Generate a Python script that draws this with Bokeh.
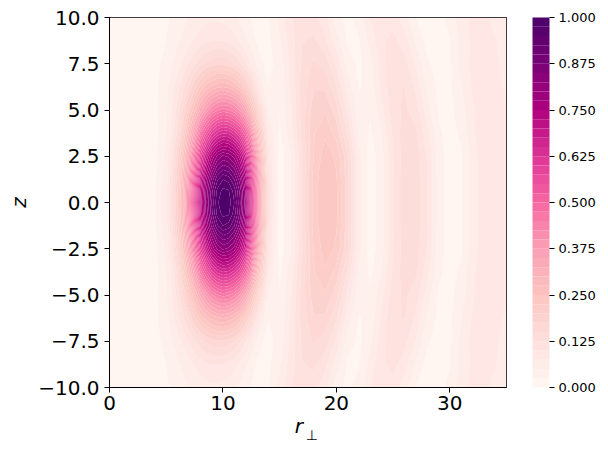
import numpy as np
from bokeh.plotting import figure
from bokeh.models import (Range1d, FixedTicker, CustomJSTickFormatter, PrintfTickFormatter,
                          Title, LinearAxis)
from bokeh.embed import file_html
from bokeh.resources import INLINE

# ---- data -----------------------------------------------------------------
# radial sample positions r_perp (columns; finer around the main lobe)
r_perp = [0, 1, 2, 3, 4, 5, 5.5, 6, 6.5, 7, 7.5, 8, 8.5, 9, 9.5, 10, 10.5, 11, 11.5,
          12, 12.5, 13, 13.5, 14, 15, 16, 17, 18, 19, 20, 21, 22, 23, 24, 25, 26, 27,
          28, 29, 30, 31, 32, 33, 34, 35]
# |z| of the rows (the field is symmetric in z)
z_abs = [0.0, 0.625, 1.25, 2.5, 3.75, 5.0, 6.25, 7.5, 8.75, 10.0]

row_z0_00 = [0, 0, 0, 0.005, 0.02, 0.07, 0.125, 0.2, 0.3, 0.42, 0.56, 0.7, 0.81, 0.9, 0.97,
             0.995, 0.99, 0.95, 0.88, 0.78, 0.63, 0.45, 0.27, 0.12,
             0.01, 0.05, 0.13, 0.21, 0.25, 0.23, 0.16, 0.06, 0.01, 0.04, 0.10, 0.14, 0.14, 0.10,
             0.04, 0.01, 0.02, 0.06, 0.09, 0.10, 0.09]
row_z0_62 = [0, 0, 0, 0.005, 0.02, 0.069, 0.123, 0.198, 0.296, 0.415, 0.553, 0.691, 0.8, 0.889, 0.958,
             0.983, 0.978, 0.938, 0.869, 0.77, 0.622, 0.444, 0.267, 0.118,
             0.01, 0.05, 0.13, 0.21, 0.25, 0.23, 0.16, 0.06, 0.01, 0.04, 0.10, 0.14, 0.14, 0.10,
             0.04, 0.01, 0.02, 0.06, 0.09, 0.10, 0.09]
row_z1_25 = [0, 0, 0, 0.005, 0.019, 0.066, 0.119, 0.19, 0.285, 0.40, 0.53, 0.665, 0.77, 0.855, 0.92,
             0.95, 0.94, 0.90, 0.836, 0.74, 0.6, 0.43, 0.26, 0.114,
             0.01, 0.05, 0.13, 0.21, 0.248, 0.228, 0.159, 0.06, 0.01, 0.04, 0.10, 0.14, 0.14, 0.10,
             0.04, 0.01, 0.02, 0.06, 0.09, 0.10, 0.09]
row_z2_50 = [0, 0, 0, 0.004, 0.017, 0.058, 0.104, 0.166, 0.25, 0.35, 0.465, 0.58, 0.67, 0.75, 0.805,
             0.83, 0.82, 0.79, 0.73, 0.65, 0.52, 0.37, 0.224, 0.10,
             0.01, 0.048, 0.125, 0.20, 0.24, 0.22, 0.154, 0.058, 0.01, 0.04, 0.099, 0.139, 0.139, 0.099,
             0.04, 0.01, 0.02, 0.06, 0.09, 0.10, 0.09]
row_z3_75 = [0, 0, 0, 0.004, 0.014, 0.05, 0.081, 0.135, 0.195, 0.28, 0.364, 0.46, 0.527, 0.59, 0.63,
             0.65, 0.643, 0.615, 0.572, 0.50, 0.41, 0.28, 0.176, 0.075,
             0.02, 0.065, 0.137, 0.198, 0.22, 0.19, 0.12, 0.042, 0.02, 0.05, 0.105, 0.138, 0.13, 0.085,
             0.03, 0.015, 0.03, 0.07, 0.092, 0.097, 0.085]
row_z5_00 = [0, 0, 0.001, 0.005, 0.018, 0.046, 0.075, 0.11, 0.157, 0.21, 0.27, 0.33, 0.38, 0.42, 0.447,
             0.46, 0.452, 0.43, 0.395, 0.34, 0.265, 0.18, 0.11, 0.046,
             0.025, 0.072, 0.137, 0.189, 0.197, 0.161, 0.092, 0.032, 0.028, 0.069, 0.113, 0.131, 0.111, 0.062,
             0.022, 0.017, 0.038, 0.072, 0.09, 0.093, 0.08]
row_z6_25 = [0, 0, 0.002, 0.006, 0.018, 0.042, 0.064, 0.09, 0.121, 0.156, 0.194, 0.23, 0.258, 0.28, 0.294,
             0.30, 0.292, 0.276, 0.245, 0.204, 0.155, 0.10, 0.055, 0.025,
             0.029, 0.079, 0.137, 0.173, 0.17, 0.128, 0.062, 0.023, 0.032, 0.082, 0.121, 0.126, 0.095, 0.044,
             0.018, 0.02, 0.048, 0.078, 0.091, 0.086, 0.07]
row_z7_50 = [0, 0.001, 0.002, 0.005, 0.015, 0.034, 0.049, 0.065, 0.082, 0.10, 0.121, 0.14, 0.155, 0.165, 0.17,
             0.17, 0.163, 0.15, 0.128, 0.10, 0.071, 0.044, 0.026, 0.017,
             0.034, 0.084, 0.132, 0.154, 0.14, 0.095, 0.036, 0.019, 0.043, 0.09, 0.116, 0.11, 0.073, 0.029,
             0.016, 0.022, 0.057, 0.082, 0.089, 0.08, 0.063]
row_z8_75 = [0, 0.001, 0.002, 0.005, 0.012, 0.025, 0.035, 0.045, 0.056, 0.067, 0.078, 0.087, 0.094, 0.099, 0.1,
             0.098, 0.093, 0.084, 0.071, 0.054, 0.037, 0.021, 0.015, 0.018,
             0.046, 0.089, 0.123, 0.13, 0.107, 0.062, 0.02, 0.023, 0.06, 0.096, 0.107, 0.087, 0.046, 0.015,
             0.012, 0.023, 0.057, 0.08, 0.085, 0.077, 0.06]
row_z10_0 = [0, 0.001, 0.002, 0.005, 0.011, 0.021, 0.028, 0.035, 0.043, 0.05, 0.057, 0.063, 0.067, 0.07, 0.07,
             0.067, 0.063, 0.056, 0.046, 0.034, 0.023, 0.015, 0.012, 0.023,
             0.059, 0.097, 0.118, 0.112, 0.082, 0.034, 0.018, 0.036, 0.075, 0.097, 0.091, 0.061, 0.024, 0.009,
             0.013, 0.034, 0.064, 0.081, 0.081, 0.068, 0.051]

x_ticks = [0, 10, 20, 30]
y_ticks = [-10.0, -7.5, -5.0, -2.5, 0.0, 2.5, 5.0, 7.5, 10.0]
cbar_ticks = [0.0, 0.125, 0.25, 0.375, 0.5, 0.625, 0.75, 0.875, 1.0]

# ---- assemble the (symmetric) grid ----------------------------------------
rows = [row_z0_00, row_z0_62, row_z1_25, row_z2_50, row_z3_75, row_z5_00,
        row_z6_25, row_z7_50, row_z8_75, row_z10_0]
assert all(len(r) == len(r_perp) for r in rows)
z_grid = np.array([-z for z in z_abs[:0:-1]] + z_abs)
field = np.array(rows[:0:-1] + rows, dtype=float)

# ---- RdPu colour map, 40 filled bands -------------------------------------
rdpu = ["#fff7f3", "#fde0dd", "#fcc5c0", "#fa9fb5", "#f768a1",
        "#dd3497", "#ae017e", "#7a0177", "#49006a"]
anchors = np.array([[int(h[i:i + 2], 16) for i in (1, 3, 5)] for h in rdpu], dtype=float)
levels = np.linspace(0.0, 1.0, 41)
mids = (levels[:-1] + levels[1:]) / 2
pos = np.linspace(0, 1, len(rdpu))
palette = []
for m in mids:
    rgb = [np.interp(m, pos, anchors[:, k]) for k in range(3)]
    palette.append("#%02x%02x%02x" % tuple(int(round(c)) for c in rgb))

FONT = "DejaVu Sans"

p = figure(frame_width=397, frame_height=370,
           x_range=Range1d(0, 35), y_range=Range1d(-10, 10),
           output_backend="svg", toolbar_location=None,
           min_border_left=109, min_border_top=17, min_border_bottom=0, min_border_right=0)
p.background_fill_color = palette[0]
p.border_fill_color = "white"
p.grid.visible = False
p.outline_line_color = "black"
p.outline_line_width = 1
p.outline_line_alpha = 1

cr = p.contour(x=np.array(r_perp, dtype=float), y=z_grid, z=field, levels=levels,
               fill_color=palette, line_color=None)
# stroke each band with its own colour so no seams show between bands
cr.fill_renderer.glyph.line_color = cr.fill_renderer.glyph.fill_color
cr.fill_renderer.glyph.line_width = 0.7

for ax in (p.xaxis[0], p.yaxis[0]):
    ax.axis_line_color = "black"
    ax.major_tick_line_color = "black"
    ax.major_tick_out = 5
    ax.major_tick_in = 0
    ax.minor_tick_line_color = None
    ax.major_label_text_font = FONT
    ax.major_label_text_font_size = "20px"
    ax.major_label_text_color = "black"

p.xaxis.ticker = FixedTicker(ticks=x_ticks)
p.xaxis.major_label_standoff = 3
p.yaxis.ticker = FixedTicker(ticks=y_ticks)
p.yaxis.formatter = CustomJSTickFormatter(
    code="return (tick < 0 ? '\\u2212' : '') + Math.abs(tick).toFixed(1);")
p.yaxis.major_label_standoff = 5
p.yaxis.axis_label = "z"
p.yaxis.axis_label_standoff = 4
p.yaxis.axis_label_text_font = FONT
p.yaxis.axis_label_text_font_style = "italic"
p.yaxis.axis_label_text_font_size = "20px"
p.yaxis.axis_label_text_color = "black"

# x label "r" with subscript "⊥" (two label-only axes under the main one)
ax_r = LinearAxis(ticker=FixedTicker(ticks=[16.7]),
                  formatter=CustomJSTickFormatter(code="return 'r';"),
                  axis_line_color=None, major_tick_line_color=None,
                  major_tick_out=0, major_tick_in=0, minor_tick_line_color=None,
                  major_label_standoff=1, major_label_text_font=FONT,
                  major_label_text_font_style="italic", major_label_text_font_size="20px",
                  major_label_text_color="black")
ax_s = LinearAxis(ticker=FixedTicker(ticks=[17.85]),
                  formatter=CustomJSTickFormatter(code="return '\\u22a5';"),
                  axis_line_color=None, major_tick_line_color=None,
                  major_tick_out=0, major_tick_in=0, minor_tick_line_color=None,
                  major_label_standoff=-14, major_label_text_font=FONT,
                  major_label_text_font_size="14px", major_label_text_color="black")
p.add_layout(ax_r, "below")
p.add_layout(ax_s, "below")

# spacer between frame and colour bar
p.add_layout(Title(text=" ", standoff=10, text_font_size="12px"), "right")

cb = cr.construct_color_bar(
    width=17, height=370, margin=0, padding=0,
    formatter=PrintfTickFormatter(format="%.3f"),
    major_label_text_font=FONT, major_label_text_font_size="13px",
    major_label_text_color="black", label_standoff=4,
    major_tick_out=5, major_tick_in=0, major_tick_line_color="black",
    minor_tick_line_color=None,
    bar_line_color="black", bar_line_width=1,
    background_fill_alpha=0, border_line_color=None)
cb.ticker = FixedTicker(ticks=cbar_ticks)
p.add_layout(cb, "right")

open("out.html", "w").write(file_html(p, INLINE))
